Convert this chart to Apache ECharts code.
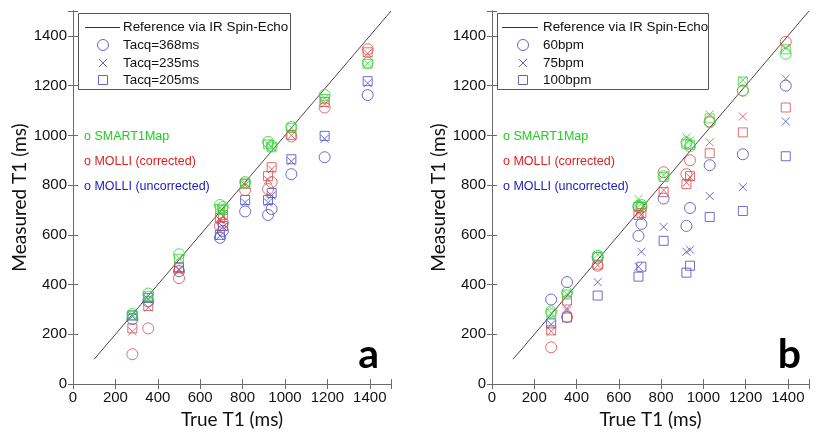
<!DOCTYPE html>
<html>
<head>
<meta charset="utf-8">
<script src="https://cdn.jsdelivr.net/npm/echarts@6/dist/echarts.min.js"></script>
<style>html,body{margin:0;padding:0;background:#fff;}#c{width:817px;height:434px;}</style>
</head>
<body>
<div id="c"></div>
<script>
// ---------- DATA ----------
const trueT1 = [280, 355, 500, 693, 707, 812, 920, 937, 1030, 1187, 1390];
const xTicks = [0, 200, 400, 600, 800, 1000, 1200, 1400];
const yTicks = [0, 200, 400, 600, 800, 1000, 1200, 1400];
const refLine = [[100, 100], [1500, 1500]];

// Panel a (Tacq)
const a_smart_368 = [282, 364, 522, 720, 712, 812, 974, 958, 1034, 1162, 1292];
const a_smart_235 = [278, 356, 506, 708, 702, 808, 966, 954, 1030, 1150, 1290];
const a_smart_205 = [276, 354, 504, 705, 700, 806, 964, 952, 1030, 1146, 1288];
const a_corr_368 = [120, 224, 426, 636, 648, 780, 784, 812, 996, 1112, 1346];
const a_corr_235 = [212, 308, 462, 660, 676, 800, 820, 864, 1000, 1126, 1330];
const a_corr_205 = [224, 314, 466, 668, 680, 806, 836, 872, 1002, 1134, 1334];
const a_unc_368 = [262, 332, 454, 588, 616, 694, 680, 704, 844, 912, 1162];
const a_unc_235 = [272, 342, 458, 596, 632, 730, 730, 758, 896, 986, 1210];
const a_unc_205 = [276, 346, 470, 600, 636, 740, 740, 768, 904, 998, 1218];

// Panel b (heart rate)
const b_smart_60 = [292, 368, 516, 716, 720, 836, 972, 956, 1052, 1180, 1328];
const b_smart_75 = [286, 362, 520, 744, 725, 840, 992, 980, 1084, 1222, 1350];
const b_smart_100 = [284, 360, 512, 712, 712, 832, 966, 962, 1068, 1216, 1346];
const b_corr_60 = [148, 270, 476, 712, 710, 852, 844, 900, 1056, 1180, 1376];
const b_corr_75 = [212, 296, 478, 688, 682, 780, 810, 832, 972, 1076, 1228];
const b_corr_100 = [216, 336, 480, 680, 688, 772, 804, 836, 928, 1012, 1112];
const b_unc_60 = [340, 410, 508, 596, 644, 746, 636, 708, 880, 924, 1200];
const b_unc_75 = [240, 304, 410, 472, 532, 632, 532, 540, 756, 792, 1056];
const b_unc_100 = [244, 268, 356, 432, 472, 576, 448, 476, 672, 696, 916];

const legendA = ['Reference via IR Spin-Echo', 'Tacq=368ms', 'Tacq=235ms', 'Tacq=205ms'];
const legendB = ['Reference via IR Spin-Echo', '60bpm', '75bpm', '100bpm'];
const methodNames = ['o SMART1Map', 'o MOLLI (corrected)', 'o MOLLI (uncorrected)'];
const panelLetters = ['a', 'b'];

// ---------- STYLE ----------
const GREEN = '#35d535', RED = '#d84a4a', BLUE = '#4848c4';
const TXT_GREEN = '#22cc22', TXT_RED = '#dd2020', TXT_BLUE = '#2020c0';
const LEG_MARK = '#6464c0';
const CROSS = 'path://M0,0L10,10M0,10L10,0';
const markers = [
  { symbol: 'circle', size: 11 },
  { symbol: CROSS, size: 8 },
  { symbol: 'rect', size: 9 }
];

const panels = [
  { left: 73, right: 391, data: [[a_unc_368, a_unc_235, a_unc_205], [a_corr_368, a_corr_235, a_corr_205], [a_smart_368, a_smart_235, a_smart_205]] },
  { left: 492, right: 809, data: [[b_unc_60, b_unc_75, b_unc_100], [b_corr_60, b_corr_75, b_corr_100], [b_smart_60, b_smart_75, b_smart_100]] }
];
const colorsByGroup = [BLUE, RED, GREEN];

const grids = [], xAxes = [], yAxes = [], series = [];
const axisLineStyle = { color: '#6a6a6a', width: 1 };
panels.forEach((p, pi) => {
  grids.push({ left: p.left, width: p.right - p.left, top: 11, height: 375 });
  const xb = {
    type: 'value', gridIndex: pi, min: 0, max: 1500, interval: 200, position: 'bottom',
    name: 'True T1 (ms)', nameLocation: 'middle', nameGap: 22,
    nameTextStyle: { fontFamily: 'Lato', fontSize: 19, color: '#111', verticalAlign: 'top' },
    axisLine: { show: true, lineStyle: axisLineStyle },
    axisTick: { show: true, inside: true, length: 5, lineStyle: axisLineStyle },
    axisLabel: { margin: 6, fontFamily: 'Liberation Sans', fontSize: 15, color: '#111',
      formatter: v => (xTicks.indexOf(v) >= 0 ? String(v) : '') },
    splitLine: { show: false }
  };
  const xt = {
    type: 'value', gridIndex: pi, min: 0, max: 1500, interval: 200, position: 'top',
    axisLine: { show: true, lineStyle: axisLineStyle },
    axisTick: { show: true, inside: true, length: 5, lineStyle: axisLineStyle },
    axisLabel: { show: false }, splitLine: { show: false }
  };
  const yl = {
    type: 'value', gridIndex: pi, min: 0, max: 1500, interval: 200, position: 'left',
    name: 'Measured T1 (ms)', nameLocation: 'middle', nameGap: 41,
    nameTextStyle: { fontFamily: 'Lato', fontSize: 19, color: '#111' },
    axisLine: { show: true, lineStyle: axisLineStyle },
    axisTick: { show: true, inside: true, length: 5, lineStyle: axisLineStyle },
    axisLabel: { margin: 6, fontFamily: 'Liberation Sans', fontSize: 15, color: '#111',
      formatter: v => (yTicks.indexOf(v) >= 0 ? String(v) : '') },
    splitLine: { show: false }
  };
  const yr = {
    type: 'value', gridIndex: pi, min: 0, max: 1500, interval: 200, position: 'right',
    axisLine: { show: true, lineStyle: axisLineStyle },
    axisTick: { show: true, inside: true, length: 5, lineStyle: axisLineStyle },
    axisLabel: { show: false }, splitLine: { show: false }
  };
  xAxes.push(xb, xt);
  yAxes.push(yl, yr);
  const xi = pi * 2, yi = pi * 2;
  series.push({
    type: 'line', xAxisIndex: xi, yAxisIndex: yi, data: refLine, symbol: 'none',
    lineStyle: { color: '#333', width: 0.9 }, silent: true, animation: false, z: 1
  });
  p.data.forEach((group, gi) => {
    group.forEach((vals, mi) => {
      series.push({
        type: 'scatter', xAxisIndex: xi, yAxisIndex: yi,
        symbol: markers[mi].symbol, symbolSize: markers[mi].size,
        itemStyle: { color: 'rgba(0,0,0,0)', borderColor: colorsByGroup[gi], borderWidth: 1 },
        data: trueT1.map((x, i) => [x, vals[i]]),
        animation: false, z: 2 + gi
      });
    });
  });
});

// ---------- GRAPHIC (legend boxes, annotations) ----------
const graphic = [];
const legendDefs = [
  { box: [78, 13, 212, 76], texts: legendA, lineX: [85, 120], markX: 103, textX: 123 },
  { box: [497, 13, 211, 76], texts: legendB, lineX: [502, 538], markX: 523, textX: 543 }
];
const rowY = [27, 45, 63, 80];
legendDefs.forEach(L => {
  graphic.push({ type: 'rect', shape: { x: L.box[0] + 0.5, y: L.box[1] + 0.5, width: L.box[2], height: L.box[3] },
    style: { fill: '#fff', stroke: '#555', lineWidth: 1 }, z: 10 });
  graphic.push({ type: 'line', shape: { x1: L.lineX[0], y1: rowY[0] + 0.5, x2: L.lineX[1], y2: rowY[0] + 0.5 },
    style: { stroke: '#333', lineWidth: 1 }, z: 11 });
  graphic.push({ type: 'circle', shape: { cx: L.markX, cy: rowY[1], r: 5.5 }, style: { fill: 'none', stroke: LEG_MARK, lineWidth: 1 }, z: 11 });
  graphic.push({ type: 'polyline', shape: { points: [[L.markX - 4, rowY[2] - 4], [L.markX + 4, rowY[2] + 4]] }, style: { stroke: LEG_MARK, lineWidth: 1 }, z: 11 });
  graphic.push({ type: 'polyline', shape: { points: [[L.markX - 4, rowY[2] + 4], [L.markX + 4, rowY[2] - 4]] }, style: { stroke: LEG_MARK, lineWidth: 1 }, z: 11 });
  graphic.push({ type: 'rect', shape: { x: L.markX - 4.5, y: rowY[3] - 4.5, width: 9, height: 9 }, style: { fill: 'none', stroke: LEG_MARK, lineWidth: 1 }, z: 11 });
  L.texts.forEach((t, i) => {
    graphic.push({ type: 'text', x: L.textX, y: rowY[i], z: 11,
      style: { text: t, fontFamily: 'Liberation Sans', fontSize: 13.4, fill: '#111', verticalAlign: 'middle', align: 'left' } });
  });
});
const methodColors = [TXT_GREEN, TXT_RED, TXT_BLUE];
const methodY = [137, 162, 187];
[84, 503].forEach(x0 => {
  methodNames.forEach((t, i) => {
    graphic.push({ type: 'text', x: x0, y: methodY[i], z: 11,
      style: { text: t, fontFamily: 'Liberation Sans', fontSize: 12.5, fill: methodColors[i], verticalAlign: 'middle', align: 'left' } });
  });
});
graphic.push({ type: 'text', x: 379, y: 375, z: 11,
  style: { text: panelLetters[0], fontFamily: 'Lato', fontWeight: 'bold', fontSize: 41, fill: '#000', align: 'right', verticalAlign: 'bottom' } });
graphic.push({ type: 'text', x: 801, y: 375, z: 11,
  style: { text: panelLetters[1], fontFamily: 'Lato', fontWeight: 'bold', fontSize: 41, fill: '#000', align: 'right', verticalAlign: 'bottom' } });

const chart = echarts.init(document.getElementById('c'), null, { renderer: 'canvas' });
chart.setOption({
  backgroundColor: '#fff',
  animation: false,
  grid: grids,
  xAxis: xAxes,
  yAxis: yAxes,
  series: series,
  graphic: graphic
});
</script>
</body>
</html>
